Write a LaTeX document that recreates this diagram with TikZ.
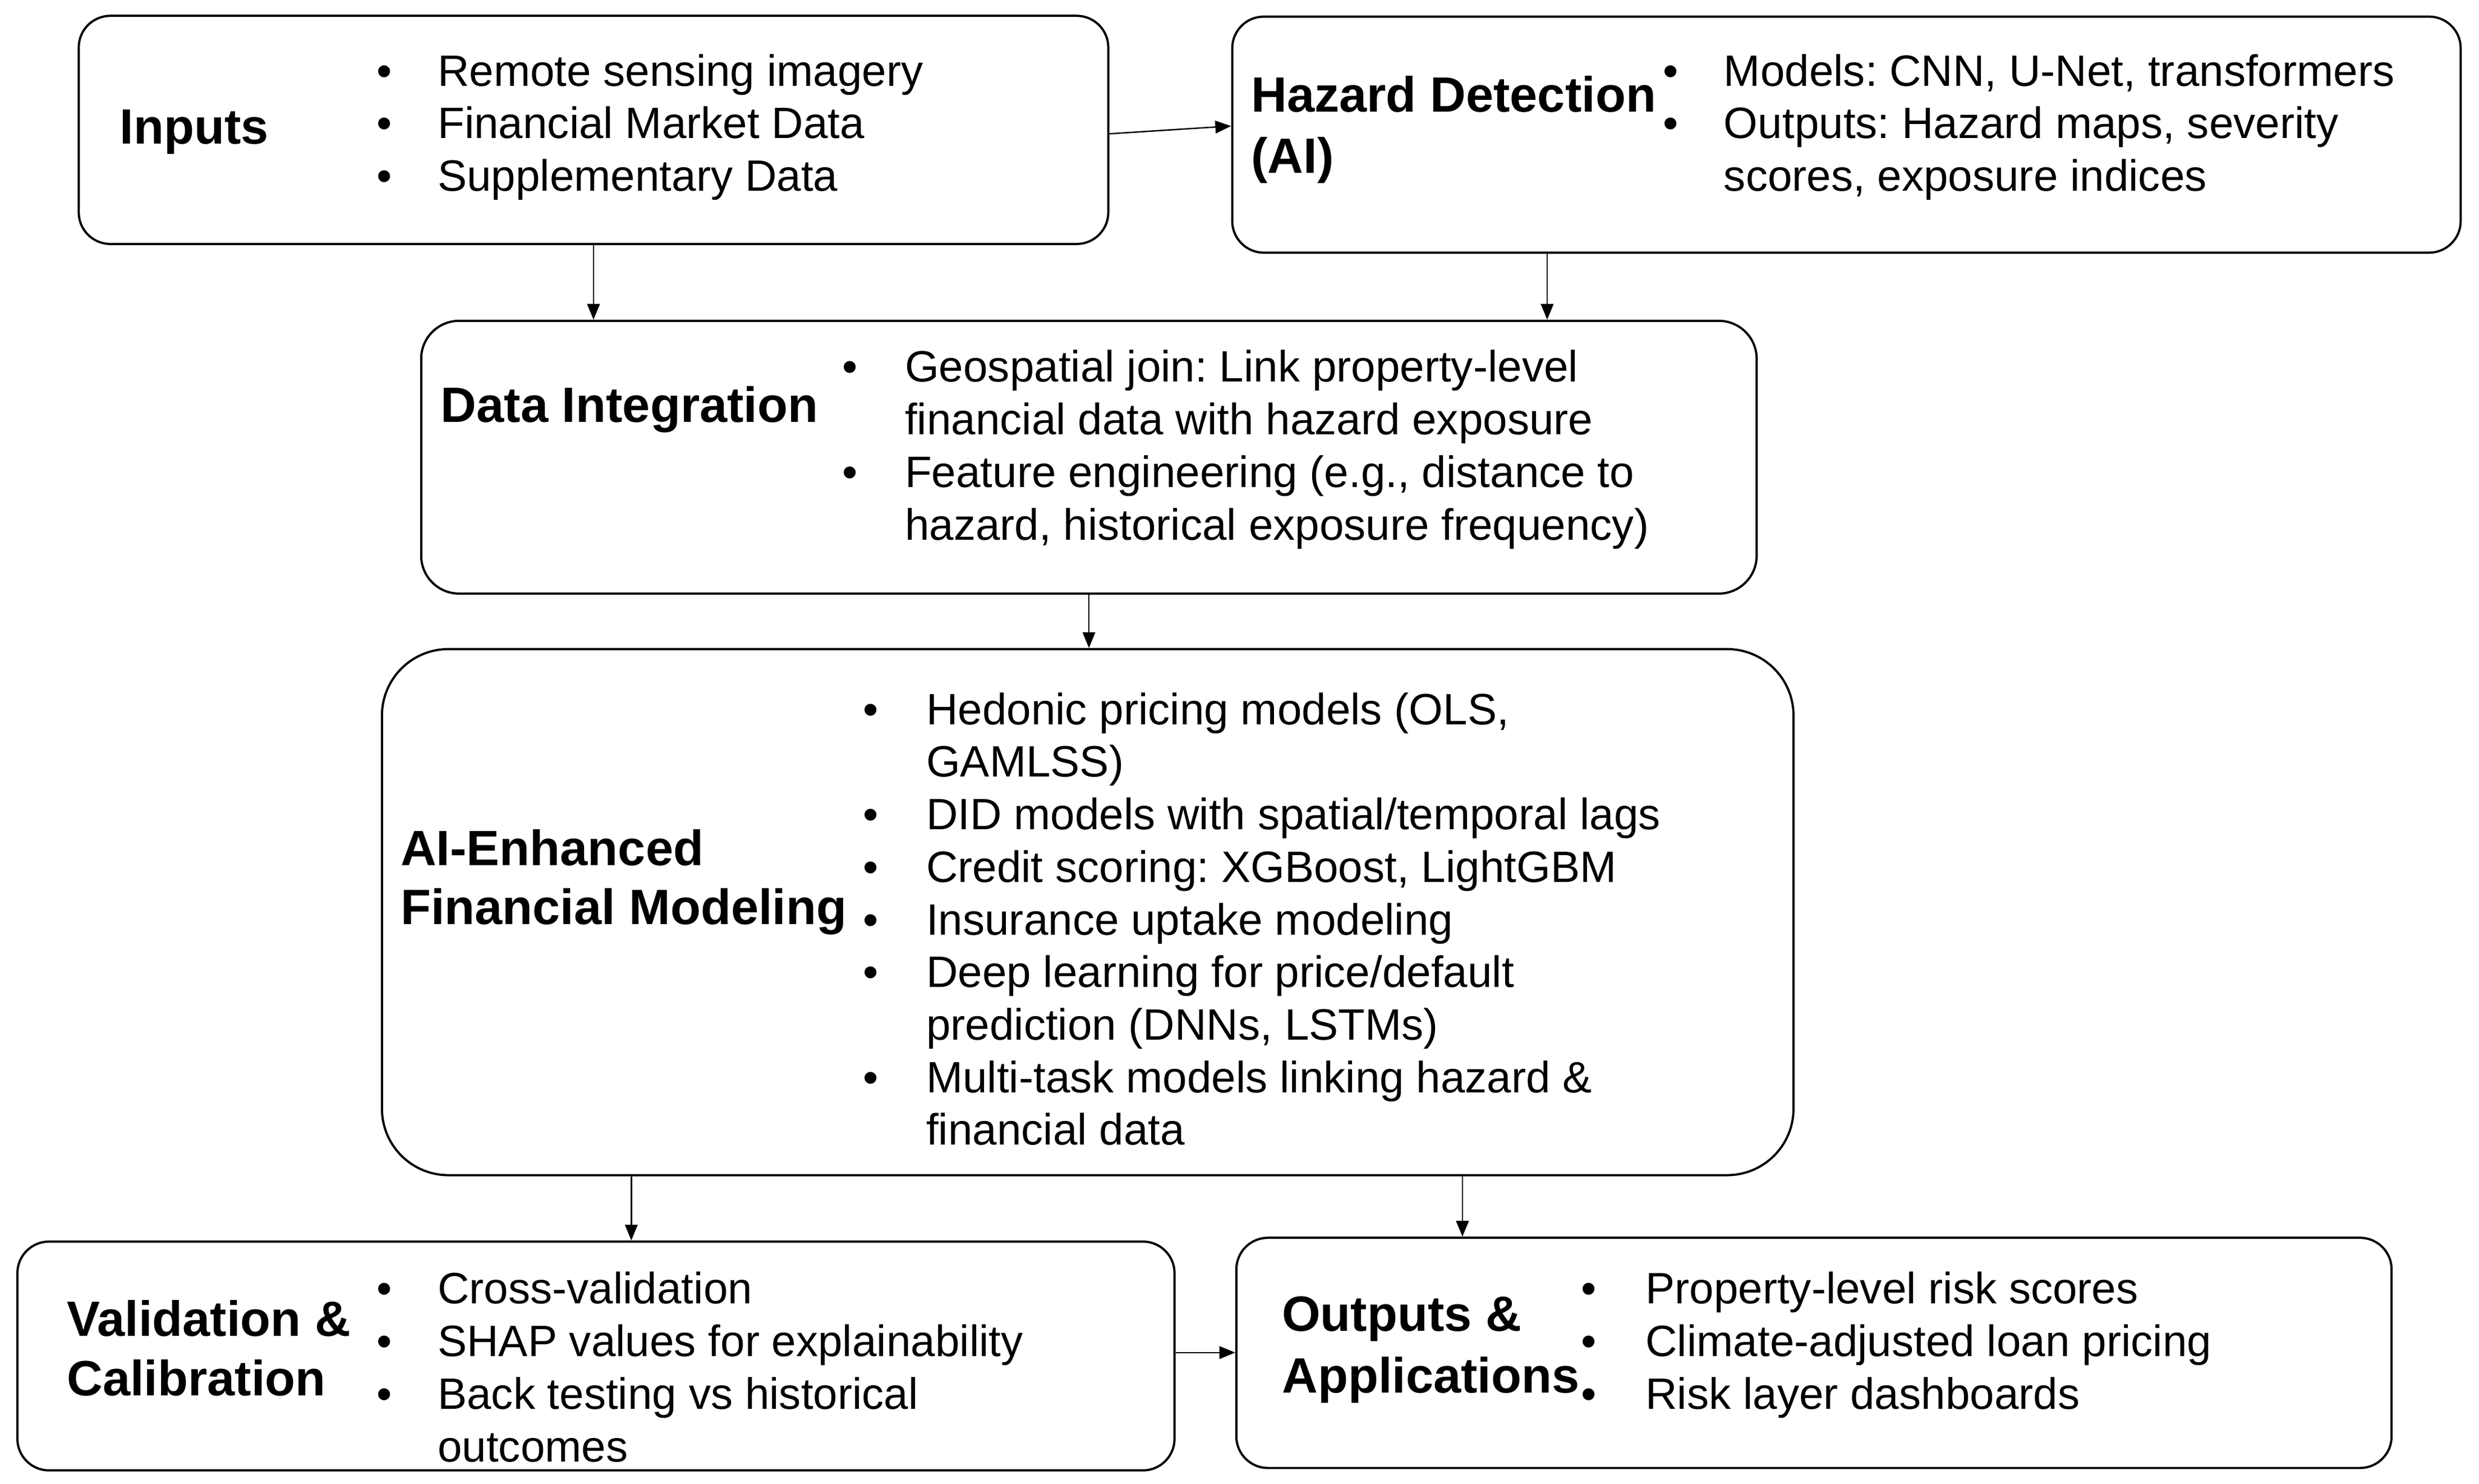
\documentclass[tikz,border=0pt]{standalone}
\usepackage{fontspec}
\setmainfont{Liberation Sans}
\usetikzlibrary{arrows.meta,fit}
\frenchspacing
\begin{document}
\begin{tikzpicture}[x=0.02cm,y=-0.02cm,
  box/.style={draw=black, line width=0.8pt, rounded corners=#1, inner sep=0pt},
  box/.default=0.4cm,
  arr/.style={draw=black, line width=0.5pt, -{Triangle[length=0.2cm,width=0.16cm]}},
  ttl/.style={anchor=base west, inner sep=0pt, font=\fontsize{17.85}{21.4}\selectfont\bfseries},
  txt/.style={anchor=base west, inner sep=0pt, font=\fontsize{15.8}{19}\selectfont},
  bul/.style={anchor=base, inner sep=0pt, font=\fontsize{15.8}{19}\selectfont}]
\useasboundingbox[fill=white] (0,0) rectangle (1568,938.2);

% boxes
\node[box, fit={(49.8,10) (701,154.3)}] (inp) {};
\node[box, fit={(779.4,10.5) (1556.4,159.8)}] (haz) {};
\node[box=0.48cm, fit={(266.4,202.9) (1111.1,375.4)}] (di) {};
\node[box=0.84cm, fit={(241.6,410.5) (1134.4,743.2)}] (ai) {};
\node[box, fit={(11,785.2) (742.9,929.9)}] (val) {};
\node[box, fit={(782,782.8) (1512.7,928.4)}] (out) {};

% Inputs
\node[ttl] (inpT) at (75.5,90.9) {Inputs};
\foreach \yy [count=\i] in {54.3,87.6,120.9} \node[bul] (inpB\i) at (243,\yy) {•};
\foreach \yy/\s [count=\i] in {54.3/Remote sensing imagery, 87.6/Financial Market Data, 120.9/Supplementary Data}
  \node[txt] (inpL\i) at (276.5,\yy) {\s};

% Hazard detection
\node[ttl] (hazT1) at (791,70.9) {Hazard Detection};
\node[ttl] (hazT2) at (791,109.5) {(AI)};
\foreach \yy [count=\i] in {54.3,87.6} \node[bul] (hazB\i) at (1056.7,\yy) {•};
\foreach \yy/\s [count=\i] in {54.3/{Models: CNN, U-Net, transformers}, 87.6/{Outputs: Hazard maps, severity}, 120.9/{scores, exposure indices}}
  \node[txt] (hazL\i) at (1090,\yy) {\s};

% Data integration
\node[ttl] (diT) at (278.5,267.1) {Data Integration};
\foreach \yy [count=\i] in {241.5,308.1} \node[bul] (diB\i) at (537.7,\yy) {•};
\foreach \yy/\s [count=\i] in {241.5/{Geospatial join: Link property-level}, 274.8/{financial data with hazard exposure}, 308.1/{Feature engineering (e.g., distance to}, 341.4/{hazard, historical exposure frequency)}}
  \node[txt] (diL\i) at (572,\yy) {\s};

% AI-enhanced financial modeling
\node[ttl] (aiT1) at (253,547.2) {AI-Enhanced};
\node[ttl] (aiT2) at (253,584.7) {Financial Modeling};
\foreach \k [count=\i] in {0,2,3,4,5,7} \node[bul] (aiB\i) at (550.9,458.1+33.26*\k) {•};
\foreach \s [count=\i from 0] in {{Hedonic pricing models (OLS,}, {GAMLSS)}, {DID models with spatial/temporal lags}, {Credit scoring: XGBoost, LightGBM}, {Insurance uptake modeling}, {Deep learning for price/default}, {prediction (DNNs, LSTMs)}, {Multi-task models linking hazard \&}, {financial data}}
  \node[txt] (aiL\i) at (585.5,458.1+33.26*\i) {\s};

% Validation & calibration
\node[ttl] (valT1) at (42,844.9) {Validation \&};
\node[ttl] (valT2) at (42,882.5) {Calibration};
\foreach \yy [count=\i] in {824.6,857.9,891.1} \node[bul] (valB\i) at (243,\yy) {•};
\foreach \yy/\s [count=\i] in {824.6/{Cross-validation}, 857.9/{SHAP values for explainability}, 891.1/{Back testing vs historical}, 924.4/{outcomes}}
  \node[txt] (valL\i) at (276.5,\yy) {\s};

% Outputs & applications
\node[ttl] (outT1) at (810.5,841.9) {Outputs \&};
\node[ttl] (outT2) at (810.5,880.7) {Applications};
\foreach \yy [count=\i] in {824.6,857.9,891.1} \node[bul] (outB\i) at (1005,\yy) {•};
\foreach \yy/\s [count=\i] in {824.6/{Property-level risk scores}, 857.9/{Climate-adjusted loan pricing}, 891.1/{Risk layer dashboards}}
  \node[txt] (outL\i) at (1040.5,\yy) {\s};

% connectors
\draw[arr] (inp.east |- 0,84.6) -- (haz.west |- 0,79.7);
\draw[arr] (inp.south) -- (inp.south |- di.north);
\draw[arr] (haz.south -| 978.6,0) -- (di.north -| 978.6,0);
\draw[arr] (di.south) -- (di.south |- ai.north);
\draw[arr] (ai.south -| 399.3,0) -- (val.north -| 399.3,0);
\draw[arr] (ai.south -| 925,0) -- (out.north -| 925,0);
\draw[arr] (val.east |- 0,855.4) -- (out.west |- 0,855.4);
\end{tikzpicture}
\end{document}
